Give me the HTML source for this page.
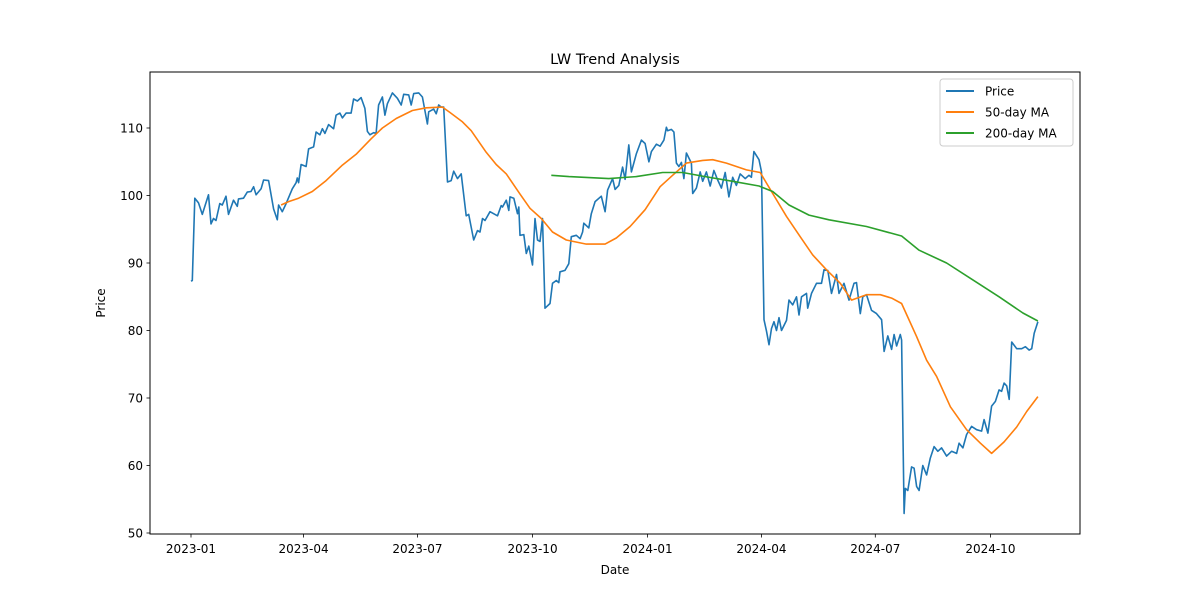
<!DOCTYPE html>
<html><head><meta charset="utf-8"><style>
body{margin:0;background:#fff}
svg{font-family:"DejaVu Sans","Liberation Sans",sans-serif}
</style></head><body>
<svg id="chart" width="1200" height="600" viewBox="0 0 1200 600">
<rect width="1200" height="600" fill="#fff"/>
<text x="615" y="64" text-anchor="middle" font-size="14.5">LW Trend Analysis</text>
<g id="xt"></g>
<g id="yt"></g>
<g id="series"></g>
<rect x="150" y="72" width="930" height="462" fill="none" stroke="#000" stroke-width="1"/>
<text x="615" y="574" text-anchor="middle" font-size="12">Date</text>
<text x="105" y="303" text-anchor="middle" font-size="12" transform="rotate(-90 105 303)">Price</text>
<g>
<rect x="940" y="79" width="133" height="67" rx="3" fill="#fff" fill-opacity="0.8" stroke="#ccc"/>
<line x1="946" y1="91" x2="974" y2="91" stroke="#1f77b4" stroke-width="2"/>
<text x="985" y="95.5" font-size="12">Price</text>
<line x1="946" y1="112" x2="974" y2="112" stroke="#ff7f0e" stroke-width="2"/>
<text x="985" y="116.5" font-size="12">50-day MA</text>
<line x1="946" y1="133" x2="974" y2="133" stroke="#2ca02c" stroke-width="2"/>
<text x="985" y="137.5" font-size="12">200-day MA</text>
</g>
</svg>
<script>
const xTickDays=[0,90,181,273,365,456,547,639];
const xTickLabels=["2023-01","2023-04","2023-07","2023-10","2024-01","2024-04","2024-07","2024-10"];
const yTickVals=[50,60,70,80,90,100,110];
const priceDays=[0,1,3,6,9,14,16,18,20,23,25,28,30,34,37,38,42,45,48,50,52,56,58,62,66,69,70,73,76,81,84,85,86,88,92,94,98,100,103,105,107,110,114,116,119,121,124,128,130,133,136,139,141,143,146,148,150,153,155,157,161,165,168,170,174,176,178,182,185,187,189,190,194,196,198,200,202,205,208,210,213,216,220,222,226,229,231,233,235,239,245,248,249,252,254,255,258,261,262,263,266,268,270,273,275,277,279,281,283,287,289,292,294,295,299,302,304,308,311,313,314,318,320,323,328,331,333,337,339,342,345,347,350,352,356,360,363,366,368,372,375,378,380,381,384,386,388,390,392,394,396,400,401,404,407,409,412,415,418,421,424,427,430,433,436,439,443,446,448,450,454,456,458,460,462,464,466,468,470,472,476,478,481,484,486,488,492,493,496,500,504,506,509,512,516,518,522,526,530,532,535,537,540,544,548,552,554,557,560,562,564,567,568,570,571,573,576,578,580,582,585,588,591,594,597,600,604,608,612,614,617,620,624,628,632,634,637,640,643,646,648,650,652,654,656,660,664,667,670,672,674,677];
const priceVals=[87.3,87.4,99.6,98.9,97.2,100.1,95.8,96.6,96.3,98.8,98.6,99.9,97.2,99.3,98.4,99.5,99.6,100.5,100.6,101.3,100.1,101.0,102.3,102.2,98.0,96.4,98.6,97.6,98.8,101.0,101.9,102.6,101.9,104.6,104.3,106.9,107.2,109.4,109.0,109.9,109.2,110.5,109.9,111.9,112.2,111.5,112.2,112.2,114.3,114.0,114.5,112.9,109.5,109.0,109.3,109.2,113.4,114.6,111.9,113.6,115.2,114.4,113.4,115.0,114.9,113.4,115.1,115.2,114.6,112.6,110.6,112.4,112.8,112.1,113.4,113.1,113.1,102.0,102.2,103.6,102.5,103.2,97.0,97.2,93.4,94.8,94.6,96.6,96.3,97.6,97.0,98.5,98.3,99.3,97.8,99.8,99.6,97.3,98.3,94.1,94.2,91.4,92.5,89.7,96.6,93.4,93.2,96.6,83.3,84.0,87.0,87.4,87.1,88.7,88.9,89.9,93.9,94.1,93.6,94.6,95.9,95.2,97.3,99.1,99.9,97.6,100.8,102.5,100.9,101.5,104.2,102.4,107.5,103.5,106.2,108.2,107.7,105.0,106.5,107.6,107.3,108.2,110.1,109.6,109.8,109.4,104.8,104.3,104.9,102.5,106.3,104.8,100.3,101.1,103.5,102.1,103.5,101.4,103.7,102.3,101.1,103.4,99.8,102.7,101.5,103.2,102.5,103.0,102.7,106.5,105.3,103.5,81.6,79.9,77.9,80.3,81.3,80.0,81.9,80.0,81.5,84.5,83.8,85.0,82.3,85.0,85.5,83.3,85.5,87.0,87.0,89.0,88.9,85.5,88.3,85.5,87.0,84.5,87.0,87.1,82.5,85.0,85.3,83.0,82.5,81.6,76.9,79.2,77.2,79.4,77.7,79.4,78.6,52.9,56.6,56.3,59.8,59.6,56.9,56.3,60.0,58.6,61.1,62.8,62.1,62.6,61.4,62.1,61.8,63.3,62.6,64.6,65.8,65.3,65.1,66.8,64.8,68.8,69.5,71.2,71.0,72.2,71.8,69.8,78.3,77.3,77.3,77.6,77.1,77.3,79.6,81.3];
const ma50Days=[72,78,86,97,108,121,132,144,153,164,177,188,201,207,217,224,236,244,252,263,271,280,289,300,316,331,340,351,363,375,385,396,409,417,428,444,455,465,476,487,497,508,519,528,540,551,560,568,580,588,596,607,620,631,640,650,660,668,677];
const ma50Vals=[98.6,99.1,99.6,100.6,102.2,104.5,106.1,108.4,110.0,111.4,112.6,113.0,113.1,112.3,110.9,109.6,106.4,104.6,103.2,100.2,98.1,96.6,94.6,93.4,92.8,92.8,93.7,95.4,97.9,101.3,103.0,104.8,105.2,105.3,104.8,103.8,103.4,100.3,96.9,93.9,91.2,89.0,87.0,84.5,85.3,85.3,84.8,84.0,79.1,75.6,73.2,68.7,65.3,63.3,61.8,63.5,65.7,68.0,70.2];
const ma200Days=[288,302,334,356,377,393,411,433,454,465,478,494,510,540,568,582,604,625,646,665,677];
const ma200Vals=[103.0,102.8,102.5,102.8,103.4,103.4,102.8,102.1,101.4,100.6,98.6,97.1,96.4,95.4,94.0,91.9,90.0,87.5,85.0,82.6,81.4];

const NS="http://www.w3.org/2000/svg";
function xs(d){return 191+d*1.251;}
function ys(v){return 533-(v-50)*6.75;}
function mk(tag,attrs,parent){const e=document.createElementNS(NS,tag);for(const k in attrs)e.setAttribute(k,attrs[k]);parent.appendChild(e);return e;}
const xt=document.getElementById('xt'),yt=document.getElementById('yt'),sg=document.getElementById('series');
xTickDays.forEach((d,i)=>{
  const x=xs(d);
  const l=mk('line',{x1:x,x2:x,y1:534,y2:537.5,stroke:'#000','stroke-width':0.8},xt);
  
  
  const t=mk('text',{x:x,y:553,'text-anchor':'middle','font-size':12},xt);
  t.textContent=xTickLabels[i];
  
  
});
yTickVals.forEach(v=>{
  const y=ys(v);
  const l=mk('line',{x1:146.5,x2:150,y1:y,y2:y,stroke:'#000','stroke-width':0.8},yt);
  
  
  const t=mk('text',{x:143,y:y+4.3,'text-anchor':'end','font-size':12},yt);
  t.textContent=String(v);
  
  
});
function line(days,vals,color,name){
  const pts=days.map((d,i)=>xs(d).toFixed(1)+','+ys(vals[i]).toFixed(1)).join(' ');
  const p=mk('polyline',{points:pts,fill:'none',stroke:color,'stroke-width':1.6,'stroke-linejoin':'round'},sg);
  
  
}
line(priceDays,priceVals,'#1f77b4','price-line');
line(ma50Days,ma50Vals,'#ff7f0e','ma50-line');
line(ma200Days,ma200Vals,'#2ca02c','ma200-line');
</script>
</body></html>
